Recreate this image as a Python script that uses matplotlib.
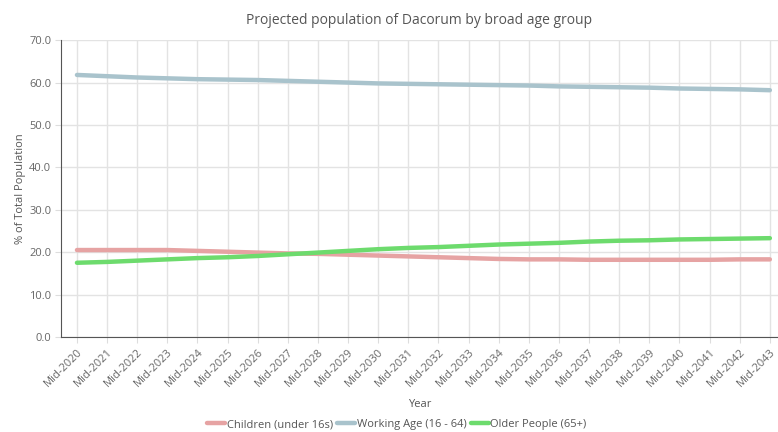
import matplotlib
matplotlib.use("Agg")
import matplotlib.pyplot as plt

years = [f"Mid-{y}" for y in range(2020, 2044)]
children = [20.5, 20.5, 20.5, 20.5, 20.3, 20.1, 19.9, 19.7, 19.6, 19.4, 19.2, 19.0,
            18.8, 18.6, 18.4, 18.3, 18.3, 18.2, 18.2, 18.2, 18.2, 18.2, 18.3, 18.3]
working = [61.8, 61.5, 61.2, 61.0, 60.8, 60.7, 60.6, 60.4, 60.2, 60.0, 59.8, 59.7,
           59.6, 59.5, 59.4, 59.3, 59.1, 59.0, 58.9, 58.8, 58.6, 58.5, 58.4, 58.2]
older = [17.5, 17.7, 18.0, 18.3, 18.6, 18.8, 19.1, 19.5, 19.9, 20.3, 20.7, 21.0,
         21.2, 21.5, 21.8, 22.0, 22.2, 22.5, 22.7, 22.8, 23.0, 23.1, 23.2, 23.3]
yticks = [0, 10, 20, 30, 40, 50, 60, 70]

plt.rcParams['font.family'] = ['Open Sans', 'DejaVu Sans']

fig = plt.figure(figsize=(7.78, 4.32), dpi=100)
ax = fig.add_axes([0.0784, 0.22, 0.9216, 0.687])

x = list(range(len(years)))
ax.plot(x, children, color="#e6a3a3", lw=3.2, solid_capstyle="round", label="Children (under 16s)")
ax.plot(x, working, color="#a9c3cc", lw=3.2, solid_capstyle="round", label="Working Age (16 - 64)")
ax.plot(x, older, color="#6ddb6d", lw=3.2, solid_capstyle="round", label="Older People (65+)")

ax.set_xlim(-0.53, 23.27)
ax.set_ylim(0, 70)
ax.set_yticks(yticks)
ax.set_yticklabels([f"{v:.1f}" for v in yticks], fontsize=8, color="#666666")
ax.set_xticks(x)
ax.set_xticklabels(years, rotation=45, ha="right", rotation_mode="anchor", fontsize=8, color="#666666")
ax.grid(True, color="#e3e3e3", lw=1)
ax.set_axisbelow(True)
for s in ["top", "right"]:
    ax.spines[s].set_visible(False)
ax.spines["left"].set_color("#555555")
ax.spines["bottom"].set_color("#555555")
ax.tick_params(axis="both", length=4, color="#dddddd", pad=3)

ax.set_title("Projected population of Dacorum by broad age group", fontsize=10, color="#555555", pad=12)
ax.set_ylabel("% of Total Population", fontsize=8, color="#555555", labelpad=2)
ax.set_xlabel("Year", fontsize=8, color="#555555", labelpad=7)

leg = fig.legend(loc="center", bbox_to_anchor=(0.51, 0.017), ncol=3, frameon=False,
                 fontsize=8, handlelength=1.6, handletextpad=0.15, columnspacing=0.4,
                 borderpad=0, borderaxespad=0)
for t in leg.get_texts():
    t.set_color("#555555")

fig.savefig("out.png", dpi=100)
